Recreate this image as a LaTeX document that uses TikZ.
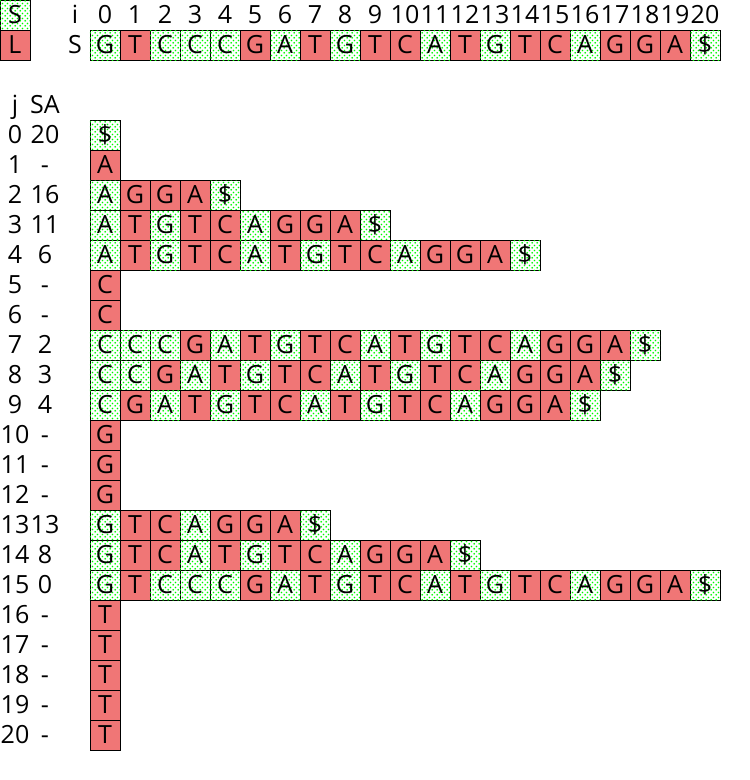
\documentclass[tikz,border=0pt]{standalone}
\usepackage{fontspec}
\setmainfont{Open Sans}
\usetikzlibrary{patterns}
\definecolor{lred}{RGB}{240,118,118}
\definecolor{sdot}{RGB}{0,250,0}
\pgfdeclarepatternformonly{sdots}{\pgfpointorigin}{\pgfpoint{4pt}{4pt}}{\pgfpoint{4pt}{4pt}}{
  \pgfpathcircle{\pgfpoint{1pt}{1pt}}{0.8pt}
  \pgfpathcircle{\pgfpoint{3pt}{3pt}}{0.8pt}
  \pgfusepath{fill}
}
\tikzset{
  cell/.style={draw, line width=0.7pt, minimum size=0.8cm, inner sep=0pt, text height=13.6pt, text depth=0pt},
  stype/.style={cell, fill=white, postaction={pattern=sdots, pattern color=sdot}},
  ltype/.style={cell, fill=lred},
  lab/.style={inner sep=0pt, text height=13.6pt, text depth=0pt},
}
% the text S and its S/L types (1 = S, 0 = L)
\def\seqtypes{{1,0,1,1,1,0,1,0,1,0,0,1,0,1,0,0,1,0,0,0,1}}
\foreach \c [count=\n from 0] in {G,T,C,C,C,G,A,T,G,T,C,A,T,G,T,C,A,G,G,A,\$}
  {\global\expandafter\let\csname seqch\n\endcsname\c}
\newcommand{\seqch}[1]{\csname seqch#1\endcsname}
\begin{document}
\begin{tikzpicture}[x=0.8cm, y=0.8cm, font=\fontsize{19}{22}\selectfont]
				\useasboundingbox (-3.5, 0.5) rectangle (21.5, -25.5);
				%%%%% LEGEND %%%%%
				\node[stype] (legS) at (-3, 0) {S};
				\node[ltype] (legL) at (-3, -1) {L};
				
				%%%%% TEXT S %%%%%
				\node[lab] (ilab) at (-1, 0) {i};
				\node[lab] (slab) at (-1, -1) {S};
				\foreach \k in {0,...,20} {
					\pgfmathtruncatemacro\t{\seqtypes[\k]}
					\node[lab] (idx\k) at (\k, 0) {\k};
					\ifnum\t=1
						\node[stype] (s\k) at (\k, -1) {\seqch{\k}};
					\else
						\node[ltype] (s\k) at (\k, -1) {\seqch{\k}};
					\fi
				}
				
				%%%%% SUFFIX ARRAY %%%%%
				\node[lab] (jlab) at (-3, -3) {j};
				\node[lab] (salab) at (-2, -3) {SA};
				\foreach \j/\sa/\b in {0/20/,1/-/A,2/16/,3/11/,4/6/,5/-/C,6/-/C,7/2/,8/3/,9/4/,
						10/-/G,11/-/G,12/-/G,13/13/,14/8/,15/0/,16/-/T,17/-/T,18/-/T,19/-/T,20/-/T} {
					\node[lab] (j\j) at (-3, -4-\j) {\j};
					\node[lab] (sa\j) at (-2, -4-\j) {\sa};
					\if\relax\b\relax
						\pgfmathtruncatemacro\last{20-\sa}
						\foreach \k in {0,...,\last} {
							\pgfmathtruncatemacro\p{\sa+\k}
							\pgfmathtruncatemacro\t{\seqtypes[\p]}
							\ifnum\t=1
								\node[stype] (r\j-\k) at (\k, -4-\j) {\seqch{\p}};
							\else
								\node[ltype] (r\j-\k) at (\k, -4-\j) {\seqch{\p}};
							\fi
						}
					\else
						\node[ltype] (r\j-0) at (0, -4-\j) {\b};
					\fi
				}
\end{tikzpicture}
\end{document}
